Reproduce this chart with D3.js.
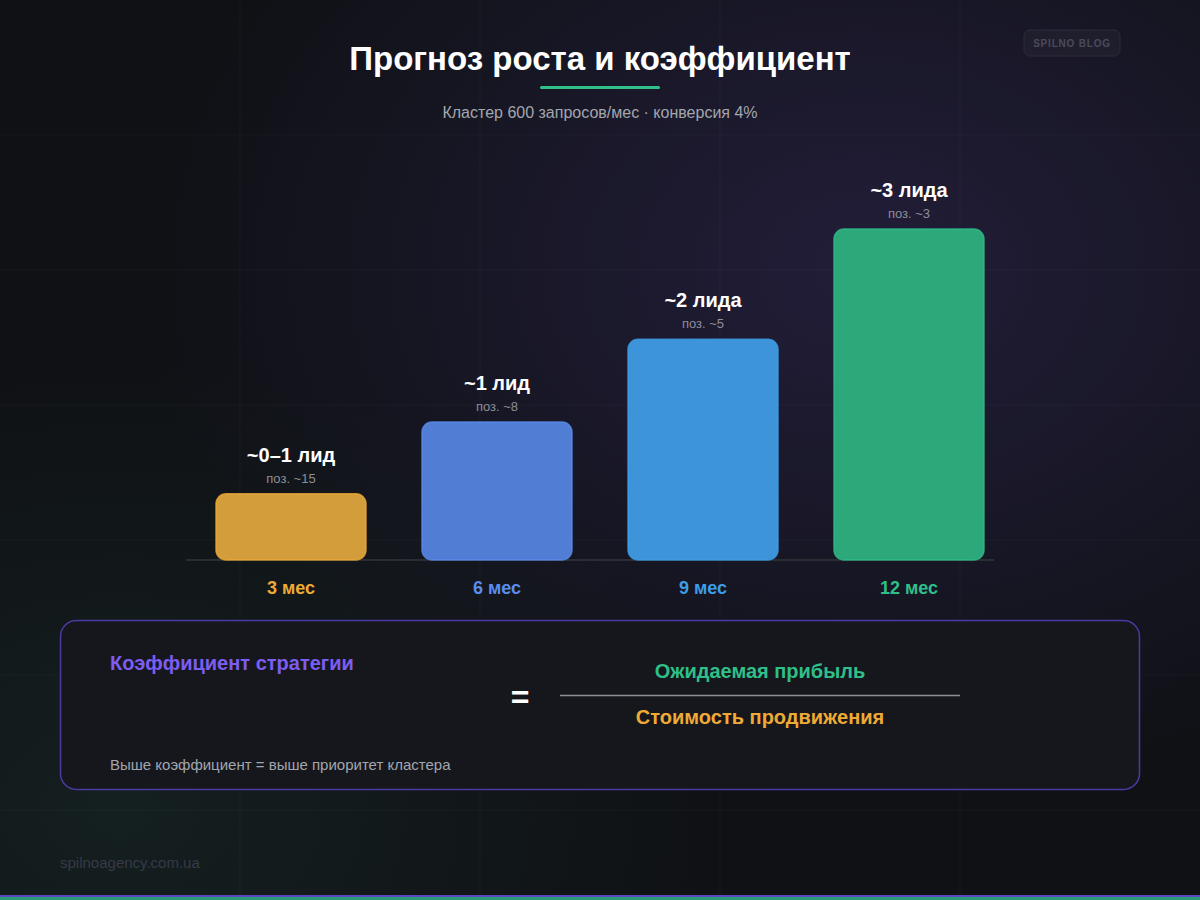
<!DOCTYPE html>
<html>
<head>
<meta charset="utf-8">
<script src="https://cdn.jsdelivr.net/npm/d3@7"></script>
<style>
  body { margin: 0; background: #0f1115; }
  svg { display: block; font-family: "Liberation Sans", Arial, sans-serif; }
</style>
</head>
<body>
<svg id="chart" width="1200" height="900"></svg>
<script>
// data
const periods = ['3 мес', '6 мес', '9 мес', '12 мес']
const leads = [0.6, 1.25, 2.0, 3.0]
const leadLabels = ['~0–1 лид', '~1 лид', '~2 лида', '~3 лида']
const positions = ['поз. ~15', 'поз. ~8', 'поз. ~5', 'поз. ~3']
const barFill = ['#d39d3c', '#517ed4', '#3d94d8', '#2ca87b']
const accent = ['#eeaa35', '#5b8def', '#3d9de9', '#2fbf88']

const W = 1200, H = 900
const svg = d3.select('#chart')
const defs = svg.append('defs')

// background glows
const bgPurple = defs.append('radialGradient').attr('id', 'bg-purple')
  .attr('cx', 0.72).attr('cy', 0.3).attr('r', 0.6)
bgPurple.append('stop').attr('offset', 0).attr('stop-color', '#231e3b').attr('stop-opacity', 0.95)
bgPurple.append('stop').attr('offset', 1).attr('stop-color', '#231e3b').attr('stop-opacity', 0)
const bgGreen = defs.append('radialGradient').attr('id', 'bg-green')
  .attr('cx', 0.1).attr('cy', 0.9).attr('r', 0.5)
bgGreen.append('stop').attr('offset', 0).attr('stop-color', '#162322').attr('stop-opacity', 0.8)
bgGreen.append('stop').attr('offset', 1).attr('stop-color', '#162322').attr('stop-opacity', 0)

svg.append('rect').attr('width', W).attr('height', H).attr('fill', '#0f1115')
svg.append('rect').attr('width', W).attr('height', H).attr('fill', 'url(#bg-purple)')
svg.append('rect').attr('width', W).attr('height', H).attr('fill', 'url(#bg-green)')

// faint grid
const grid = svg.append('g').attr('stroke', '#ffffff').attr('stroke-opacity', 0.035)
d3.range(240, W, 240).forEach(x => grid.append('line').attr('x1', x).attr('x2', x).attr('y1', 0).attr('y2', H))
d3.range(135, H, 135).forEach(y => grid.append('line').attr('x1', 0).attr('x2', W).attr('y1', y).attr('y2', y))

// title
svg.append('text').attr('x', 600).attr('y', 70).attr('text-anchor', 'middle')
  .attr('fill', '#ffffff').attr('font-size', 33).attr('font-weight', 700)
  .text('Прогноз роста и коэффициент')
svg.append('rect').attr('x', 540).attr('y', 86).attr('width', 120).attr('height', 3).attr('rx', 1.5)
  .attr('fill', '#2fbf88')
svg.append('text').attr('x', 600).attr('y', 118).attr('text-anchor', 'middle')
  .attr('fill', '#a3a6ae').attr('font-size', 16)
  .text('Кластер 600 запросов/мес · конверсия 4%')

// badge
svg.append('rect').attr('x', 1024).attr('y', 30).attr('width', 96).attr('height', 26).attr('rx', 6)
  .attr('fill', '#ffffff').attr('fill-opacity', 0.03).attr('stroke', '#2c2b3c')
svg.append('text').attr('x', 1072).attr('y', 47).attr('text-anchor', 'middle')
  .attr('fill', '#4b4a5c').attr('font-size', 10).attr('font-weight', 700).attr('letter-spacing', 0.8)
  .text('SPILNO BLOG')

// bars
const x = d3.scaleBand().domain(periods).range([216, 984]).paddingInner(56 / 206).paddingOuter(0)
const y = d3.scaleLinear().domain([0, 3]).range([560, 229])

svg.append('line').attr('x1', 186).attr('x2', 994).attr('y1', 560).attr('y2', 560)
  .attr('stroke', '#2a2d34').attr('stroke-width', 2)

const bars = svg.append('g').selectAll('g').data(periods).join('g')

bars.append('rect')
  .attr('x', d => x(d))
  .attr('y', (d, i) => y(leads[i]))
  .attr('width', x.bandwidth())
  .attr('height', (d, i) => y(0) - y(leads[i]))
  .attr('rx', 10)
  .attr('fill', (d, i) => barFill[i])
  .attr('stroke', (d, i) => accent[i])
  .attr('stroke-opacity', 0.8)
  .attr('stroke-width', 1.5)

bars.append('text')
  .attr('x', d => x(d) + x.bandwidth() / 2)
  .attr('y', (d, i) => y(leads[i]) - 32)
  .attr('text-anchor', 'middle').attr('fill', '#ffffff')
  .attr('font-size', 20).attr('font-weight', 700)
  .text((d, i) => leadLabels[i])

bars.append('text')
  .attr('x', d => x(d) + x.bandwidth() / 2)
  .attr('y', (d, i) => y(leads[i]) - 11)
  .attr('text-anchor', 'middle').attr('fill', '#8c8f98')
  .attr('font-size', 13)
  .text((d, i) => positions[i])

bars.append('text')
  .attr('x', d => x(d) + x.bandwidth() / 2)
  .attr('y', 594)
  .attr('text-anchor', 'middle').attr('fill', (d, i) => accent[i])
  .attr('font-size', 18).attr('font-weight', 700)
  .text(d => d)

// formula panel
svg.append('rect').attr('x', 60.5).attr('y', 620.5).attr('width', 1079).attr('height', 169).attr('rx', 16)
  .attr('fill', '#16171c').attr('stroke', '#4b3aa3').attr('stroke-width', 1.5)
svg.append('text').attr('x', 110).attr('y', 670)
  .attr('fill', '#7c5df2').attr('font-size', 20).attr('font-weight', 700)
  .text('Коэффициент стратегии')
svg.append('text').attr('x', 110).attr('y', 770)
  .attr('fill', '#a3a6ae').attr('font-size', 15)
  .text('Выше коэффициент = выше приоритет кластера')
svg.append('text').attr('x', 520).attr('y', 708).attr('text-anchor', 'middle')
  .attr('fill', '#ffffff').attr('font-size', 32).attr('font-weight', 700)
  .text('=')
svg.append('line').attr('x1', 560).attr('x2', 960).attr('y1', 695.5).attr('y2', 695.5)
  .attr('stroke', '#8d8e93').attr('stroke-width', 1.5)
svg.append('text').attr('x', 760).attr('y', 678).attr('text-anchor', 'middle')
  .attr('fill', '#2fbf88').attr('font-size', 20).attr('font-weight', 700)
  .text('Ожидаемая прибыль')
svg.append('text').attr('x', 760).attr('y', 724).attr('text-anchor', 'middle')
  .attr('fill', '#eeaa35').attr('font-size', 20).attr('font-weight', 700)
  .text('Стоимость продвижения')

// footer
svg.append('text').attr('x', 60).attr('y', 868)
  .attr('fill', '#373a48').attr('font-size', 15)
  .text('spilnoagency.com.ua')
svg.append('rect').attr('x', 0).attr('y', 895).attr('width', W).attr('height', 2).attr('fill', '#5a48c0')
svg.append('rect').attr('x', 0).attr('y', 897).attr('width', W).attr('height', 3).attr('fill', '#2a9a78')
</script>
</body>
</html>
